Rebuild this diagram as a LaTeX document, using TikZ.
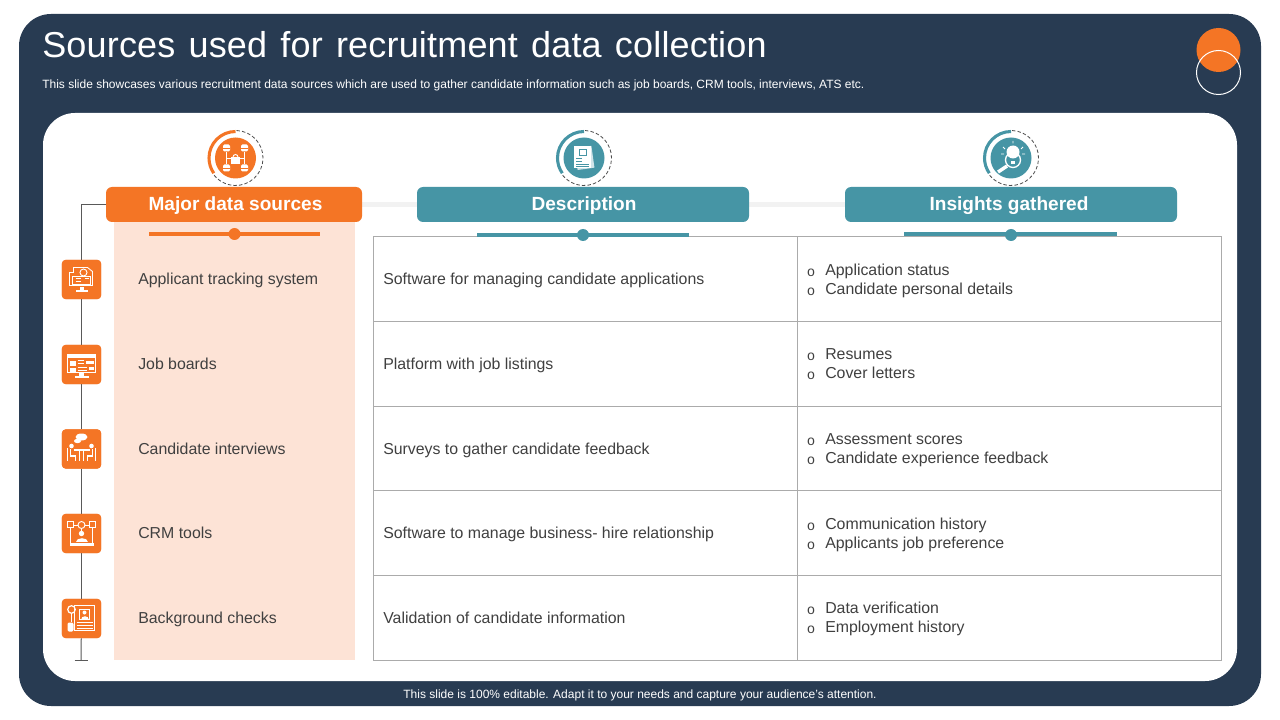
\documentclass[tikz,border=0pt]{standalone}
\usepackage{fontspec}
\setmainfont{Liberation Sans}
\newfontfamily\bulfont{Liberation Mono}
\newfontfamily\titlefont[LetterSpace=0.5,WordSpace=1.3]{Liberation Sans}
\definecolor{navy}{HTML}{283B52}
\definecolor{orng}{HTML}{F47525}
\definecolor{teal2}{HTML}{4695A5}
\definecolor{peach}{HTML}{FDE3D6}
\definecolor{txt}{HTML}{404040}
\definecolor{gridc}{HTML}{ABABAB}
\definecolor{strip}{HTML}{F2F2F2}
\tikzset{
  x=0.75pt,y=-0.75pt,
  cell/.style={draw=gridc,line width=0.75pt,minimum width=318pt,minimum height=63.56pt,inner sep=0pt},
  header/.style={rounded corners=4.5pt,minimum height=26.25pt,inner sep=0pt,text=white,text height=11pt,text depth=2pt,font=\fontsize{14.3}{15}\selectfont\bfseries},
  iconbox/.style={fill=orng,rounded corners=3pt,minimum width=29.5pt,minimum height=29.5pt,inner sep=0pt},
  body/.style={anchor=base west,inner sep=0pt,text=txt,font=\fontsize{11.9}{12}\selectfont},
  bull/.style={anchor=base,inner sep=0pt,text=txt,font=\bulfont\fontsize{10.5}{12}\selectfont},
  conn/.style={draw=black!65,line width=0.75pt},
  ic/.style={draw=white,line width=0.7pt,fill=none},
  ringdash/.style={draw=black!70,line width=0.6pt,dash pattern=on 2.6pt off 1.6pt},
}
\begin{document}
\begin{tikzpicture}
\useasboundingbox (0,0) rectangle (1280,720);
\fill[white] (0,0) rectangle (1280,720);
\fill[navy,rounded corners=24pt] (19,14) rectangle (1261,706);
\fill[white,rounded corners=24pt] (43,113) rectangle (1237,681);
% decoration
\fill[orng] (1218.5,50) circle (22);
\draw[white,line width=0.75pt] (1218.5,72.5) circle (22);
% titles
\node[anchor=base west,inner sep=0pt,text=white,font=\titlefont\fontsize{27}{27}\selectfont] (title) at (42,58) {Sources used for recruitment data collection};
\node[anchor=base west,inner sep=0pt,text=white,font=\fontsize{9}{9}\selectfont] (sub) at (42,89) {This slide showcases various recruitment data sources which are used to gather candidate information such as job boards, CRM tools, interviews, ATS etc.};
\node[anchor=base,inner sep=0pt,text=white,font=\fontsize{9}{9}\selectfont] (foot) at (640,698) {This slide is 100\% editable. Adapt it to your needs and capture your audience's attention.};
% peach band
\fill[peach] (114,222) rectangle (355,660);
% strips
\fill[strip] (362,202.5) rectangle (417,207.5);
\fill[strip] (749,202.5) rectangle (845,207.5);
% headers
\node[header,fill=orng,minimum width=192pt] (h1) at (234,204.5) {\hspace*{2.25pt}Major data sources};
\node[header,fill=teal2,minimum width=249pt] (h2) at (583,204.5) {\hspace*{1.5pt}Description};
\node[header,fill=teal2,minimum width=249pt] (h3) at (1011,204.5) {\hspace*{-3pt}Insights gathered};
% table
\foreach \n/\y in {1/279,2/363.75,3/448.5,4/533.25,5/618}{
  \node[cell] (d\n) at (585,\y) {};
  \node[cell] (e\n) at (1009,\y) {};
}
% underlines
\draw[orng,line width=2.6pt] (149,234) -- (320,234);
\fill[orng] (234.5,234) circle (6);
\draw[teal2,line width=3pt] (477,235) -- (689,235);
\fill[teal2] (583,235) circle (6);
\draw[teal2,line width=3pt] (904,234.5) -- (1117,234.5);
\fill[teal2] (1011,235) circle (6);
% icon boxes
\foreach \n/\y in {1/279.5,2/364.5,3/449,4/533.5,5/618.5}{
  \node[iconbox] (i\n) at (81.5,\y) {};
}
\coordinate (endc) at (81,660);
\coordinate (endl) at (74.5,660);
\coordinate (endr) at (87.5,660);
\draw[conn] (h1.west) -| (i1.north);
\draw[conn] (i1) -- (i2);
\draw[conn] (i2) -- (i3);
\draw[conn] (i3) -- (i4);
\draw[conn] (i4) -- (i5);
\draw[conn] (i5) -- (endc);
\draw[conn] (endl) -- (endr);
\foreach \n in {1,...,5}{\node[iconbox] at (i\n) {};}
% first column and description text
\foreach \n/\y/\a/\b in {
 1/284.5/Applicant tracking system/Software for managing candidate applications,
 2/369.5/Job boards/Platform with job listings,
 3/454.5/Candidate interviews/Surveys to gather candidate feedback,
 4/538.5/CRM tools/Software to manage business- hire relationship,
 5/623.5/Background checks/Validation of candidate information}{
  \node[body] (a\n) at (138,\y) {\a};
  \node[body] (b\n) at (383,\y) {\b};
}
\foreach \n/\y/\a/\b in {
 1/275.5/Application status/Candidate personal details,
 2/359.5/Resumes/Cover letters,
 3/444.5/Assessment scores/Candidate experience feedback,
 4/529.5/Communication history/Applicants job preference,
 5/613.5/Data verification/Employment history}{
  \node[body] (c\n) at (825,\y) {\a};
  \node[body] (f\n) at (825,\y+19) {\b};
  \node[bull] (p\n) at (811,\y+0.5) {o};
  \node[bull] (q\n) at (811,\y+19.5) {o};
}
% rings
\foreach \cx/\col in {235.5/orng,584/teal2,1011/teal2}{
  \fill[\col] (\cx,158) circle (20.5);
  \draw[\col,line width=2.3pt] (\cx,131.5) arc (-90:-215:26.5);
  \draw[ringdash] (\cx+1,130.5) arc (-88:145:27.5);
}
% big icon 1: four cells and lock
\begin{scope}[shift={(235.5,158)}]
 \foreach \p/\q in {-9/-10,9/-10,-9/10,9/10}{\fill[white,rounded corners=1pt] (\p-3.5,\q-3.5) rectangle (\p+3.5,\q+3.5);
   \draw[orng,line width=0.4pt] (\p-3.5,\q) -- (\p+3.5,\q);}
 \draw[ic,line width=0.4pt] (-9,-6) -- (-9,6) (9,-6) -- (9,6) (-9,0) -- (9,0);
 \fill[white] (-4.5,-1) rectangle (4.5,6);
 \draw[white,line width=0.7pt] (-2.5,-1) arc (180:360:2.5);
\end{scope}
% big icon 2: document stack
\begin{scope}[shift={(584,158)}]
 \fill[white!75!teal2,rotate=8] (-8,-11) rectangle (9,11);
 \fill[white] (-10,-12) rectangle (7,10);
 \draw[teal2,line width=0.7pt] (-5,-9) rectangle (2,-3);
 \draw[teal2,line width=0.5pt] (-8,0) -- (-2,0) (-8,3) -- (-2,3) (-8,6) -- (5,6) (-8,8) -- (5,8);
\end{scope}
% big icon 3: bulb and magnifier
\begin{scope}[shift={(1011,158)}]
 \fill[white] (2,-6) circle (6.5);
 \draw[white,line width=1pt] (2,2) circle (7.5);
 \fill[white] (0,3) rectangle (4,6);
 \draw[white,line width=2.6pt] (-4,8) -- (-13,14);
 \draw[white,line width=0.6pt] (-8,-11) -- (-6,-9) (12,-11) -- (10,-9) (2,-17) -- (2,-14.5) (-10,-4) -- (-7,-4) (11,-4) -- (14,-4);
\end{scope}
% small icon 1
\begin{scope}[shift={(i1.center)}]
 \draw[ic] (-8,-12) -- (6,-12) -- (11,-8) -- (11,6) -- (-12,6) -- (-12,-7) -- (-8,-7) -- cycle;
 \draw[ic] (-9,-3) rectangle (9,5);
 \draw[ic] (2,-7) circle (3.5);
 \draw[ic] (-6,-1) -- (-1,-1) (-6,2) -- (-1,2) (3,-1) -- (7,-1);
 \fill[white] (-2,7) rectangle (2,10);
 \fill[white] (-6,10) rectangle (6,12);
\end{scope}
% small icon 2
\begin{scope}[shift={(i2.center)}]
 \draw[white,line width=0.8pt] (-14,-10) rectangle (14,8);
 \fill[white] (-14,-10) rectangle (14,-7);
 \fill[white] (-12,-4) rectangle (-6,1);
 \fill[white] (-12,3) rectangle (-6,7);
 \fill[white] (4,-4) rectangle (12,-1);
 \fill[white] (7,2) rectangle (12,5);
 \draw[ic] (-4,-4) -- (2,-4) (-4,-1) -- (2,-1) (-4,3) -- (5,3) (-4,6) -- (5,6);
 \fill[white] (-2.5,8) rectangle (2.5,11);
 \fill[white] (-7,11) rectangle (7,13);
\end{scope}
% small icon 3
\begin{scope}[shift={(i3.center)}]
 \fill[white] (0,-12) ellipse (6 and 3.5);
 \fill[white] (-4,-8) ellipse (3.5 and 2.2);
 \fill[white] (-10,-3) circle (2.3);
 \fill[white] (10,-3) circle (2.3);
 \draw[white,line width=1.4pt] (-11,0) -- (-11,7) -- (-6,7) -- (-6,12);
 \draw[white,line width=1.4pt] (11,0) -- (11,7) -- (6,7) -- (6,12);
 \draw[white,line width=1pt] (-8,1) -- (8,1) (-2,1) -- (-2,12) (2,1) -- (2,12);
 \draw[ic] (-14,-1) -- (-14,12) (14,-1) -- (14,12);
\end{scope}
% small icon 4
\begin{scope}[shift={(i4.center)}]
 \draw[ic] (-14,-12) rectangle (-8,-6);
 \draw[ic] (8,-12) rectangle (14,-6);
 \draw[ic] (0,-8.5) circle (3.5);
 \draw[ic] (-3.5,-8.5) -- (-8,-8.5) (3.5,-8.5) -- (8,-8.5);
 \draw[ic] (-11,-6) -- (-11,10) (11,-6) -- (11,10) (0,-5) -- (0,-2);
 \fill[white] (0,0) circle (2.7);
 \fill[white] (-6,8) .. controls (-6,3) and (6,3) .. (6,8) -- cycle;
 \fill[white] (-12,9) rectangle (12,12);
\end{scope}
% small icon 5
\begin{scope}[shift={(i5.center)}]
 \draw[ic,line width=0.9pt] (-10,-9) circle (3.8);
 \draw[white,line width=1pt] (-10,-5) -- (-10,3);
 \fill[white,rounded corners=1pt] (-14,4) rectangle (-8,13);
 \draw[ic,line width=0.9pt] (-7,-13) rectangle (13,12);
 \draw[ic] (-2,-9) rectangle (8,1);
 \fill[white] (3,-6) circle (2);
 \fill[white] (-1,1) .. controls (-1,-4) and (7,-4) .. (7,1) -- cycle;
 \draw[ic] (-5,4) -- (11,4) (-5,7) -- (11,7) (-5,10) -- (11,10);
\end{scope}
\end{tikzpicture}
\end{document}
